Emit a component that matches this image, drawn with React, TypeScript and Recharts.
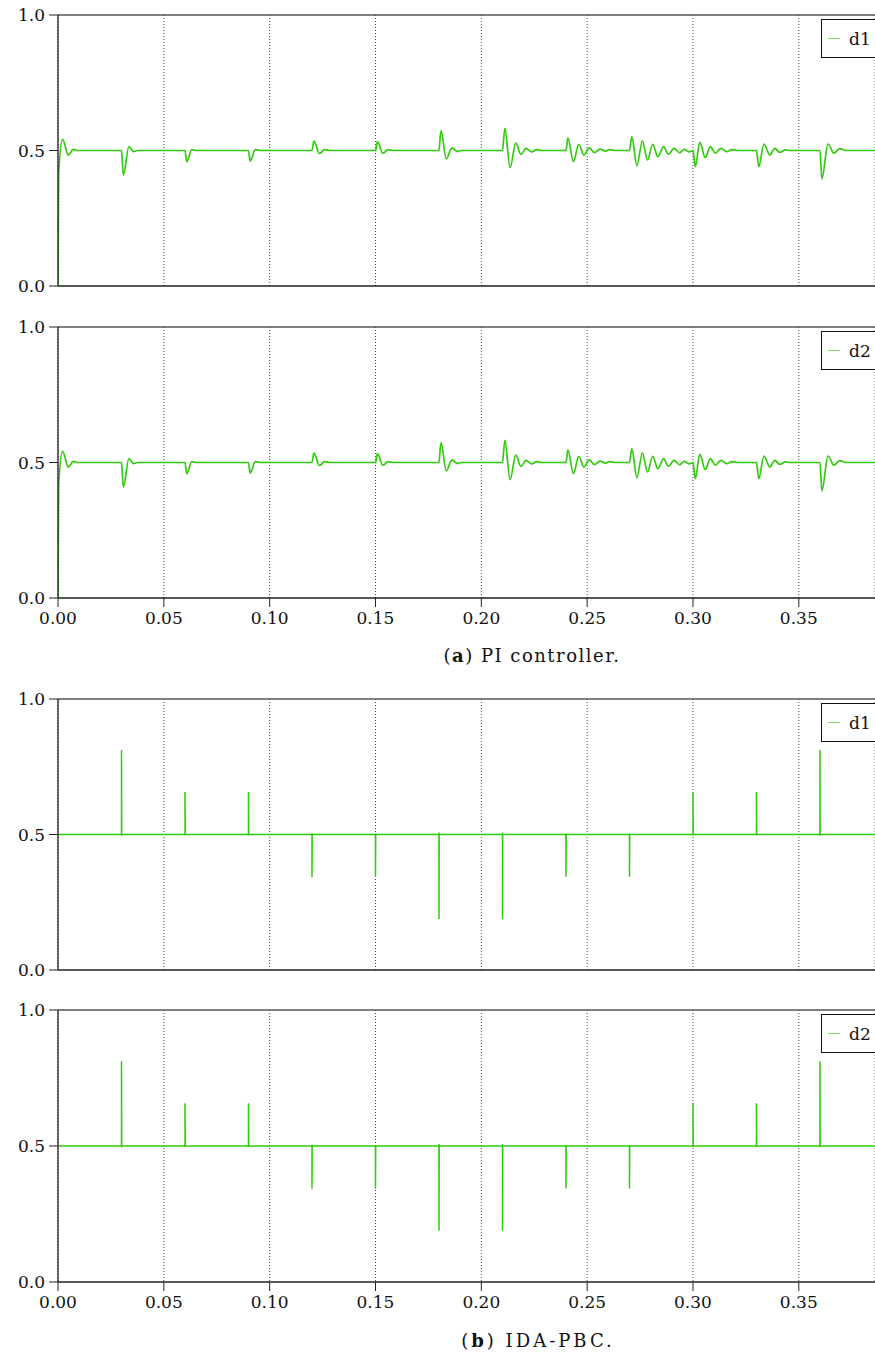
import React from 'react';
import { LineChart, Line, XAxis, YAxis, CartesianGrid, ReferenceLine, Legend } from 'recharts';

const GREEN = '#2fcc0c';
const FONT = '"DejaVu Serif", serif';

const xTicks = [0, 0.05, 0.1, 0.15, 0.2, 0.25, 0.3, 0.35];
const yTicks = [0, 0.5, 1];
const xMax = 0.386;

// PI controller: duty cycle [time s, duty]
const piPoints: [number, number][] = [
  [0, 0], [0.0003, 0.416], [0.0022, 0.541], [0.0049, 0.483], [0.0072, 0.504], [0.0096, 0.5],
  [0.03, 0.5], [0.0309, 0.41], [0.0335, 0.514], [0.0357, 0.496], [0.0376, 0.5],
  [0.06, 0.5], [0.0608, 0.459], [0.0632, 0.503], [0.0655, 0.5],
  [0.09, 0.5], [0.0908, 0.461], [0.0932, 0.503], [0.0955, 0.5],
  [0.12, 0.5], [0.1209, 0.535], [0.1235, 0.489], [0.126, 0.503], [0.1285, 0.5],
  [0.15, 0.5], [0.1509, 0.533], [0.1535, 0.49], [0.156, 0.503], [0.1585, 0.5],
  [0.18, 0.5], [0.1809, 0.573], [0.1835, 0.469], [0.1861, 0.51], [0.1887, 0.496], [0.1906, 0.5],
  [0.21, 0.5], [0.2111, 0.582], [0.2136, 0.437], [0.2163, 0.527], [0.2187, 0.486],
  [0.2212, 0.508], [0.2237, 0.495], [0.2262, 0.503], [0.2286, 0.5],
  [0.24, 0.5], [0.2409, 0.547], [0.2435, 0.459], [0.2461, 0.523], [0.2485, 0.483],
  [0.251, 0.51], [0.2534, 0.492], [0.2561, 0.505], [0.2584, 0.498], [0.2608, 0.503], [0.2632, 0.5],
  [0.27, 0.5], [0.2711, 0.551], [0.2735, 0.444], [0.2761, 0.536], [0.2785, 0.465],
  [0.281, 0.523], [0.2834, 0.477], [0.2861, 0.514], [0.2884, 0.486], [0.2911, 0.508],
  [0.2936, 0.492], [0.2958, 0.504], [0.2982, 0.495], [0.3, 0.5],
  [0.3011, 0.44], [0.3032, 0.53], [0.3058, 0.474], [0.3082, 0.514], [0.3106, 0.49],
  [0.3132, 0.508], [0.3158, 0.496], [0.3184, 0.503], [0.3213, 0.5],
  [0.33, 0.5], [0.3311, 0.44], [0.3335, 0.524], [0.3363, 0.483], [0.3387, 0.508],
  [0.341, 0.493], [0.3437, 0.502], [0.346, 0.5],
  [0.36, 0.5], [0.3609, 0.395], [0.3638, 0.524], [0.3666, 0.49], [0.3693, 0.507], [0.3721, 0.5],
  [0.386, 0.5],
];

// IDA-PBC: duty cycle with single-sample spikes at each load step
const idaPoints: [number, number][] = [
  [0, 0.5],
  [0.03, 0.5], [0.03, 0.495], [0.03, 0.812], [0.0301, 0.5],
  [0.06, 0.5], [0.06, 0.496], [0.06, 0.657], [0.0601, 0.5],
  [0.09, 0.5], [0.09, 0.496], [0.09, 0.657], [0.0901, 0.5],
  [0.12, 0.5], [0.12, 0.505], [0.12, 0.343], [0.1201, 0.5],
  [0.15, 0.5], [0.15, 0.504], [0.15, 0.343], [0.1501, 0.5],
  [0.18, 0.5], [0.18, 0.507], [0.18, 0.188], [0.1801, 0.5],
  [0.21, 0.5], [0.21, 0.507], [0.21, 0.188], [0.2101, 0.5],
  [0.24, 0.5], [0.24, 0.504], [0.24, 0.344], [0.2401, 0.5],
  [0.27, 0.5], [0.27, 0.504], [0.27, 0.344], [0.2701, 0.5],
  [0.3, 0.5], [0.3, 0.496], [0.3, 0.657], [0.3001, 0.5],
  [0.33, 0.5], [0.33, 0.496], [0.33, 0.657], [0.3301, 0.5],
  [0.36, 0.5], [0.36, 0.495], [0.36, 0.812], [0.3601, 0.5],
  [0.386, 0.5],
];

const toRows = (pts: [number, number][]) => pts.map(([t, d]) => ({ t, d }));

const legendBox = (name: string) => () => (
  <div
    style={{
      boxSizing: 'border-box',
      border: '1px solid #111',
      background: '#fff',
      height: 39,
      width: 80,
      display: 'flex',
      alignItems: 'center',
      fontFamily: FONT,
      fontSize: 17,
      color: '#111',
    }}
  >
    <span style={{ display: 'inline-block', width: 12, borderTop: '1.5px solid #7fdc6c', marginLeft: 6, marginRight: 9 }} />
    <span>{name}</span>
  </div>
);

interface PanelProps {
  top: number;
  plotHeight: number;
  data: { t: number; d: number }[];
  name: string;
  curve: 'monotone' | 'linear';
  showTicks: boolean;
}

function Panel({ top, plotHeight, data, name, curve, showTicks }: PanelProps) {
  const axisH = showTicks ? 40 : 14;
  return (
    <div style={{ position: 'absolute', left: 0, top }}>
      <LineChart width={875} height={15 + plotHeight + axisH} data={data} margin={{ top: 15, right: 0, bottom: 0, left: 0 }}>
        <CartesianGrid horizontal={false} stroke="#444" strokeDasharray="1 2" />
        <XAxis
          dataKey="t"
          type="number"
          domain={[0, xMax]}
          allowDataOverflow
          ticks={xTicks}
          height={axisH}
          tickFormatter={(v: number) => (showTicks ? v.toFixed(2) : '')}
          tick={{ fill: '#111', fontSize: 17, fontFamily: FONT }}
          tickLine={showTicks ? { stroke: '#222' } : false}
          tickSize={9}
          tickMargin={5}
          axisLine={{ stroke: '#222', strokeWidth: 1.3 }}
        />
        <YAxis
          type="number"
          domain={[0, 1]}
          ticks={yTicks}
          width={58}
          tickFormatter={(v: number) => v.toFixed(1)}
          tick={{ fill: '#111', fontSize: 17, fontFamily: FONT }}
          tickLine={{ stroke: '#222' }}
          tickSize={9}
          tickMargin={4}
          axisLine={{ stroke: '#222', strokeWidth: 1.3 }}
        />
        <ReferenceLine y={1} stroke="#555" strokeWidth={1.3} />
        <Legend
          layout="vertical"
          align="center"
          verticalAlign="middle"
          content={legendBox(name)}
          wrapperStyle={{ left: 821, top: 19, width: 80, height: 39 }}
        />
        <Line
          type={curve}
          dataKey="d"
          name={name}
          stroke={GREEN}
          strokeWidth={curve === 'monotone' ? 1.7 : 1.5}
          dot={false}
          isAnimationActive={false}
        />
      </LineChart>
    </div>
  );
}

const captionStyle: React.CSSProperties = {
  position: 'absolute',
  left: 535,
  transform: 'translateX(-50%)',
  fontFamily: FONT,
  fontSize: 18,
  whiteSpace: 'nowrap',
  color: '#111',
};

export default function App() {
  const pi = toRows(piPoints);
  const ida = toRows(idaPoints);
  return (
    <div style={{ position: 'absolute', left: 0, top: 0, width: 875, height: 1359, overflow: 'hidden', background: '#fff' }}>
      <Panel top={0} plotHeight={271} data={pi} name="d1" curve="monotone" showTicks={false} />
      <Panel top={312} plotHeight={271} data={pi} name="d2" curve="monotone" showTicks />
      <div style={{ ...captionStyle, top: 645, left: 532, letterSpacing: 1.5 }}>
        (<b>a</b>) PI controller.
      </div>
      <Panel top={684} plotHeight={271} data={ida} name="d1" curve="linear" showTicks={false} />
      <Panel top={995} plotHeight={272} data={ida} name="d2" curve="linear" showTicks />
      <div style={{ ...captionStyle, top: 1330, left: 538, letterSpacing: 3 }}>
        (<b>b</b>) IDA-PBC.
      </div>
    </div>
  );
}
